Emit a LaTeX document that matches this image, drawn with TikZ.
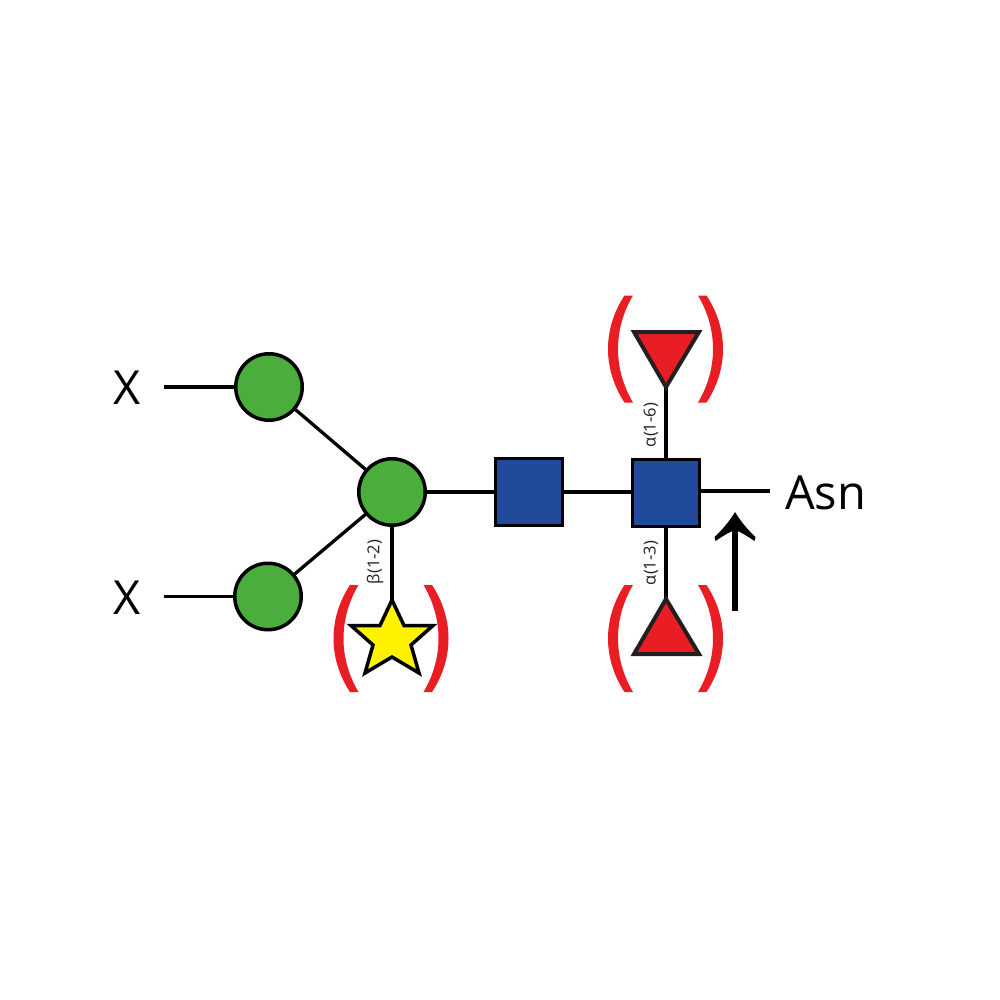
\documentclass[tikz,border=0pt]{standalone}
\usepackage{fontspec}
\setmainfont{Open Sans}
\definecolor{gr}{HTML}{4BAD3B}
\definecolor{bl}{HTML}{214A9B}
\definecolor{rd}{HTML}{E91D24}
\definecolor{yl}{HTML}{FFF200}
\definecolor{ink}{HTML}{231F20}
\tikzset{
  x=1pt,y=-1pt,
  link/.style={draw=black,line width=3.3pt},
  gal/.style={circle,draw=black,line width=3.5pt,fill=gr,minimum size=66.5pt,inner sep=0pt},
  glc/.style={rectangle,draw=black,line width=3.3pt,fill=bl,minimum size=66.5pt,inner sep=0pt},
  fuc/.style={draw=ink,line width=4pt,fill=rd,line join=miter,miter limit=10},
  xyl/.style={draw=black,line width=3.5pt,fill=yl,miter limit=10},
  big/.style={font=\fontsize{47}{47}\selectfont,inner sep=0pt,text=black},
  small/.style={font=\fontsize{16.5}{16.5}\selectfont,inner sep=0pt,rotate=90,text=ink},
  brk/.style={fill=rd,draw=none},
}
\begin{document}
\begin{tikzpicture}
\useasboundingbox (0,0) rectangle (1000,1000);
\fill[white] (0,0) rectangle (1000,1000);
% nodes
\node[gal] (g1) at (269,387) {};
\node[gal] (g2) at (268,596.5) {};
\node[gal] (g3) at (392,492) {};
\node[glc] (s1) at (529,492) {};
\node[glc] (s2) at (666,493) {};
\node[big,anchor=base] (x1) at (127,404) {X};
\node[big,anchor=base] (x2) at (127,614) {X};
\node[big,anchor=base west] (asn) at (785,509) {Asn};
\coordinate (x1e) at (164,387);
\coordinate (x2e) at (164,596.5);
\coordinate (asne) at (770,491);
\coordinate (s2e) at (698,491);
\coordinate (t6) at (666,387);
\coordinate (t3) at (666,599);
\coordinate (st) at (392,604);
% connectors
\draw[link] (x1e) -- (g1);
\draw[link] (x2e) -- (g2);
\draw[link] (g1) -- (g3);
\draw[link] (g2) -- (g3);
\draw[link] (g3) -- (s1);
\draw[link] (s1.east) -- (s1.east -| s2.west);
\draw[link] (s2e) -- (asne);
\draw[link] (s2) -- (t6);
\draw[link] (s2) -- (t3);
\draw[link] (g3) -- (st);
% fucose triangles
\path[fuc] (634,332) -- (699,332) -- (t6) -- cycle;
\path[fuc] (634,654) -- (699,654) -- (t3) -- cycle;
% star
\path[xyl] (392,600) -- (404,625.5) -- (433,625.5) -- (411,645) -- (419,673) -- (392,657) -- (365,673) -- (373,645) -- (351,625.5) -- (380,625.5) -- cycle;
% brackets
\foreach \cx/\cy/\nm in {665.5/349/a,665.5/638.5/b,391/638.5/c}{
  \begin{scope}[shift={(\cx,\cy)}]
    \path[brk] (-32.5,-53.5) .. controls (-52.5,-20) and (-52.5,20) .. (-32.5,53.5) -- (-41,53.5)
      .. controls (-63,20) and (-63,-20) .. (-41,-53.5) -- cycle;
    \path[brk] (32.5,-53.5) .. controls (52.5,-20) and (52.5,20) .. (32.5,53.5) -- (41,53.5)
      .. controls (63,20) and (63,-20) .. (41,-53.5) -- cycle;
  \end{scope}
}
% arrow
\coordinate (ab) at (735,611);
\coordinate (at) at (735,525);
\draw[black,line width=6pt] (ab) -- (at);
\fill[black] (735,512) .. controls (741,522) and (748,530) .. (755.5,537) -- (754.5,541) .. controls (747,536) and (741,532) .. (735,530) .. controls (729,532) and (723,536) .. (715.5,541) -- (714.5,537) .. controls (722,530) and (729,522) .. (735,512) -- cycle;
% labels
\node[small] (l1) at (651,425) {α(1-6)};
\node[small] (l2) at (651,563) {α(1-3)};
\node[small] (l3) at (375,562) {β(1-2)};
\end{tikzpicture}
\end{document}
